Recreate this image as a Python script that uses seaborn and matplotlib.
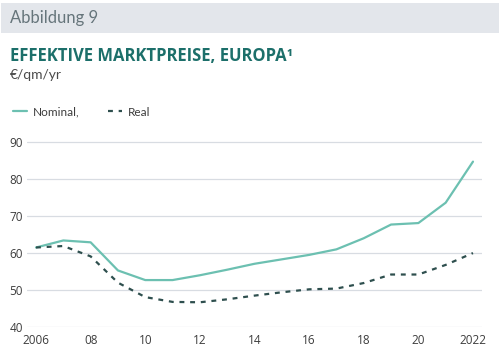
import matplotlib
matplotlib.use("Agg")
import matplotlib.pyplot as plt
import seaborn as sns
import pandas as pd
from matplotlib.patches import Rectangle
from matplotlib.lines import Line2D

years = list(range(2006, 2023))
nominal = [61.4, 63.3, 62.8, 55.2, 52.6, 52.6, 53.9, 55.4, 57.0, 58.2, 59.4, 60.9, 63.9, 67.6, 68.0, 73.5, 84.6]
real = [61.4, 61.8, 59.0, 51.9, 48.0, 46.7, 46.6, 47.4, 48.4, 49.3, 50.1, 50.3, 51.8, 54.1, 54.1, 56.7, 59.9]
series_names = ["Nominal,", "Real"]
xtick_vals = [2006, 2008, 2010, 2012, 2014, 2016, 2018, 2020, 2022]
xtick_labels = ["2006", "08", "10", "12", "14", "16", "18", "20", "2022"]
ytick_vals = [40, 50, 60, 70, 80, 90]

df = pd.DataFrame({
    "year": years * 2,
    "value": nominal + real,
    "series": [series_names[0]] * len(years) + [series_names[1]] * len(years),
})

sns.set_theme(style="white")
plt.rcParams["font.family"] = ["Lato", "DejaVu Sans"]

fig = plt.figure(figsize=(5.0, 3.54), dpi=100)
ax = fig.add_axes([0.054, 0.075, 0.910, 0.527])

c_nom = "#6cc0b1"
c_real = "#2e4f4e"
sns.lineplot(data=df, x="year", y="value", hue="series", style="series",
             palette={series_names[0]: c_nom, series_names[1]: c_real},
             dashes={series_names[0]: "", series_names[1]: (2.2, 2.6)},
             linewidth=1.6, ax=ax, legend=False)

ax.set_xlim(2005.67, 2022.33)
ax.set_ylim(39.8, 90.2)
ax.set_xticks(xtick_vals)
ax.set_xticklabels(xtick_labels)
ax.set_yticks(ytick_vals)
ax.set_xlabel("")
ax.set_ylabel("")
ax.grid(axis="y", color="#d8dce2", linewidth=0.9)
ax.set_axisbelow(True)
for s in ax.spines.values():
    s.set_visible(False)
ax.tick_params(axis="both", length=0, labelsize=8.5, colors="#3d3d3d")
ax.tick_params(axis="x", pad=5)
ax.tick_params(axis="y", pad=3)
for lab in ax.get_xticklabels() + ax.get_yticklabels():
    lab.set_family(["Open Sans", "DejaVu Sans"])

# header band
fig.patches.append(Rectangle((0.002, 1 - 33 / 354), 0.996, 30 / 354,
                             transform=fig.transFigure, facecolor="#e3e6eb",
                             edgecolor="none", zorder=0))
fig.text(10 / 500, 1 - 18 / 354, "Abbildung 9", fontsize=12, color="#66757b",
         va="center", ha="left", fontweight="normal")
fig.text(10 / 500, 1 - 56 / 354, "EFFEKTIVE MARKTPREISE, EUROPA¹", fontsize=12,
         color="#1c6f6a", fontweight="bold", va="center", ha="left",
         family=["Open Sans", "DejaVu Sans"])
fig.text(10 / 500, 1 - 75 / 354, "€/qm/yr", fontsize=10, color="#4a4a4a",
         va="center", ha="left")

# legend
handles = [Line2D([0], [0], color=c_nom, lw=1.6),
           Line2D([0], [0], color=c_real, lw=1.6, dashes=(2.2, 2.6))]
fig.legend(handles, series_names, loc="center left",
           bbox_to_anchor=(0.005, 1 - 112 / 354), ncol=2, frameon=False,
           fontsize=8.5, handlelength=1.2, handletextpad=0.5, columnspacing=2.4,
           labelcolor="#3d3d3d")

fig.savefig("out.png", dpi=100)
